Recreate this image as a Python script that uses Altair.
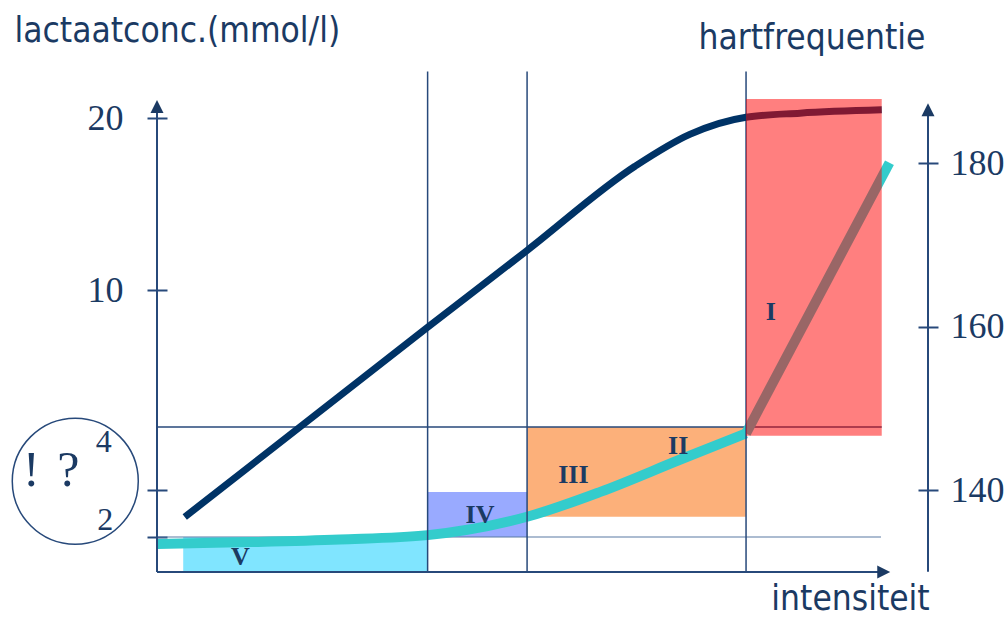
import altair as alt
import pandas as pd

# Heart-rate curve: intensity (arbitrary units) and beats per minute
HR_INTENSITY = [3.6, 35.1, 48.0, 62.0, 69.1, 76.4, 83.4, 94.0]
HR_VALUES = [136.7, 159.9, 169.3, 179.6, 183.5, 185.6, 186.1, 186.5]

# Lactate curve (mmol/l): gradual part up to the threshold, then the steep rise
LAC_INTENSITY = [0.0, 12.1, 23.7, 35.1, 48.0, 57.5, 67.8, 76.4]
LAC_VALUES = [1.6, 1.71, 1.86, 2.04, 2.43, 2.96, 3.48, 3.9]
LAC_STEEP_INTENSITY = [76.4, 95.0]
LAC_STEEP_VALUES = [3.9, 17.4]

# Training zones as boxes (intensity range x lactate range)
ZONE_NAMES = ["V", "IV", "III-II", "I"]
ZONE_X0 = [3.4, 35.1, 48.0, 76.4]
ZONE_X1 = [35.1, 48.0, 76.4, 94.0]
ZONE_LAC0 = [0.0, 2.0, 2.43, 3.86]
ZONE_LAC1 = [2.0, 2.96, 4.0, 21.1]
ZONE_COLORS = ["#80e5ff", "#99aaff", "#fcb07a", "#ff0000"]

# Zone labels
LABEL_TEXT = ["V", "IV", "III", "II", "I"]
LABEL_X = [10.8, 41.9, 54.0, 67.6, 79.6]
LABEL_LAC = [0.86, 2.47, 3.24, 3.70, 9.04]

# Threshold lines (mmol/l) and zone boundaries (intensity)
THRESHOLDS = [2, 4]
THRESHOLD_END = [93.9, 94.0]
BOUNDARIES = [35.1, 48.0, 76.4]
BOUNDARY_TOP = 22.7

# Axis extents
LAC_AXIS_TOP = 20.7
LAC_ARROW_TIP = 21.05
X_AXIS_END = 94.0
X_ARROW_TIP = 95.1
HR_AXIS_BOTTOM = 130.0
HR_AXIS_TOP = 186.9
HR_ARROW_TIP = 187.3

LAC_TICKS = [2, 3, 10, 20]
HR_TICKS = [140, 160, 180]

# The "! ?" note with the 4 and 2 mmol/l marks
NOTE_CIRCLE_X = [-10.6]
NOTE_CIRCLE_LAC = [3.14]
NOTE_BIG_TEXT = ["!", "?"]
NOTE_BIG_X = [-16.3, -11.5]
NOTE_BIG_LAC = [3.30, 3.30]
NOTE_SMALL_TEXT = ["4", "2"]
NOTE_SMALL_X = [-6.9, -6.7]
NOTE_SMALL_LAC = [3.76, 2.36]

NAVY = "#1b3a63"
LINE = "#27497a"
SANS = "DejaVu Sans Condensed, DejaVu Sans"
SERIF = "Liberation Serif"

W, H = 771, 472

X_SCALE = alt.Scale(domain=[0, 100], range=[0, W], nice=False, zero=False)
LAC_SCALE = alt.Scale(domain=[0, 2, 3, 4, 10, 20],
                      range=[472, 437, 390, 327, 190, 18], nice=False, zero=False)
HR_SCALE = alt.Scale(domain=[140, 180], range=[390, 63], nice=False, zero=False)

X_AXIS = alt.Axis(domain=False, ticks=False, labels=False, grid=False,
                  title="intensiteit", titleX=693, titleY=37, titleAlign="center",
                  titleBaseline="alphabetic", titleFont=SANS, titleFontSize=35,
                  titleFontWeight="normal", titleColor=NAVY)

LAC_AXIS = alt.Axis(orient="left", values=LAC_TICKS,
                    labelExpr="datum.value >= 10 ? datum.label : ''",
                    offset=-10, tickSize=20, tickWidth=2, tickColor=LINE,
                    domain=False, grid=False, labelFont=SERIF, labelFontSize=36,
                    labelColor=NAVY, labelPadding=24, labelFlush=False, labelOverlap=False,
                    title="lactaatconc.(mmol/l)", titleAngle=0, titleX=-153, titleY=-59,
                    titleAlign="left", titleBaseline="alphabetic", titleFont=SANS,
                    titleFontSize=35, titleFontWeight="normal", titleColor=NAVY)

HR_AXIS = alt.Axis(orient="right", values=HR_TICKS, offset=-10, tickSize=20, tickWidth=2,
                   tickColor=LINE, domain=False, grid=False, labelFont=SERIF,
                   labelFontSize=36, labelColor=NAVY, labelPadding=12, labelFlush=False,
                   labelOverlap=False, title="hartfrequentie", titleAngle=0, titleX=7,
                   titleY=-52, titleAlign="right", titleBaseline="alphabetic",
                   titleFont=SANS, titleFontSize=35, titleFontWeight="normal",
                   titleColor=NAVY)


def xq(field):
    return alt.X(field, type="quantitative", scale=X_SCALE, axis=X_AXIS)


def ylac(field, axis=True):
    return alt.Y(field, type="quantitative", scale=LAC_SCALE,
                 axis=LAC_AXIS if axis else None)


def yhr(field):
    return alt.Y(field, type="quantitative", scale=HR_SCALE, axis=HR_AXIS)


zones = pd.DataFrame({"zone": ZONE_NAMES, "x0": ZONE_X0, "x1": ZONE_X1,
                      "l0": ZONE_LAC0, "l1": ZONE_LAC1})
labels = pd.DataFrame({"t": LABEL_TEXT, "x": LABEL_X, "l": LABEL_LAC})
bounds = pd.DataFrame({"x": BOUNDARIES, "l0": [0] * len(BOUNDARIES),
                       "l1": [BOUNDARY_TOP] * len(BOUNDARIES)})
thr = pd.DataFrame({"l": THRESHOLDS, "x0": [0, 0], "x1": THRESHOLD_END})
lac = pd.DataFrame({"x": LAC_INTENSITY, "l": LAC_VALUES})
lac_steep = pd.DataFrame({"x": LAC_STEEP_INTENSITY, "l": LAC_STEEP_VALUES})
hr = pd.DataFrame({"x": HR_INTENSITY, "hr": HR_VALUES})

zone_color = alt.Color("zone:N", scale=alt.Scale(domain=ZONE_NAMES, range=ZONE_COLORS),
                       legend=None)

# ---- lactate layer under the heart-rate curve
under_boxes = alt.Chart(zones[zones.zone != "I"]).mark_rect().encode(
    x=xq("x0"), x2="x1", y=ylac("l0"), y2="l1", color=zone_color)

boundary_rules = alt.Chart(bounds).mark_rule(color=LINE, strokeWidth=1.5).encode(
    x=xq("x"), y=ylac("l0"), y2="l1")

thr4 = alt.Chart(thr[thr.l == 4]).mark_rule(color=LINE, strokeWidth=1.5).encode(
    x=xq("x0"), x2="x1", y=ylac("l"))
thr2 = alt.Chart(thr[thr.l == 2]).mark_rule(color="#5b7aa3", strokeWidth=1.2).encode(
    x=xq("x0"), x2="x1", y=ylac("l"))

lac_line = alt.Chart(lac).mark_line(color="#33cccc", strokeWidth=10,
                                    interpolate="monotone").encode(
    x=xq("x"), y=ylac("l"))
lac_steep_line = alt.Chart(lac_steep).mark_line(color="#33cccc", strokeWidth=10).encode(
    x=xq("x"), y=ylac("l"))

left_axis = alt.Chart(pd.DataFrame({"x": [0], "l0": [0], "l1": [LAC_AXIS_TOP]})).mark_rule(
    color=LINE, strokeWidth=2).encode(x=xq("x"), y=ylac("l0"), y2="l1")
left_arrow = alt.Chart(pd.DataFrame({"x": [0], "l": [LAC_ARROW_TIP]})).mark_point(
    shape="M0,0L-0.5,1L0.5,1Z", size=676, filled=True, opacity=1, color=NAVY).encode(
    x=xq("x"), y=ylac("l"))
bottom_axis = alt.Chart(pd.DataFrame({"x0": [0], "x1": [X_AXIS_END], "l": [0]})).mark_rule(
    color=LINE, strokeWidth=2).encode(x=xq("x0"), x2="x1", y=ylac("l"))
bottom_arrow = alt.Chart(pd.DataFrame({"x": [X_ARROW_TIP], "l": [0]})).mark_point(
    shape="M0,0L-1,-0.5L-1,0.5Z", size=676, filled=True, opacity=1, color=NAVY).encode(
    x=xq("x"), y=ylac("l"))

note_circle = alt.Chart(pd.DataFrame({"x": NOTE_CIRCLE_X, "l": NOTE_CIRCLE_LAC})).mark_point(
    shape="circle", size=15876, filled=False, color=LINE, strokeWidth=1.5, opacity=1).encode(
    x=xq("x"), y=ylac("l"))

lac_under = alt.layer(under_boxes, thr2, thr4, lac_line, lac_steep_line, boundary_rules,
                      left_axis, left_arrow, bottom_axis, bottom_arrow, note_circle)

# ---- heart-rate layer
hr_line = alt.Chart(hr).mark_line(color="#003366", strokeWidth=7,
                                  interpolate="monotone").encode(x=xq("x"), y=yhr("hr"))
right_axis = alt.Chart(pd.DataFrame({"x": [100], "h0": [HR_AXIS_BOTTOM],
                                     "h1": [HR_AXIS_TOP]})).mark_rule(
    color=LINE, strokeWidth=2).encode(x=xq("x"), y=yhr("h0"), y2="h1")
right_arrow = alt.Chart(pd.DataFrame({"x": [100], "hr": [HR_ARROW_TIP]})).mark_point(
    shape="M0,0L-0.5,1L0.5,1Z", size=676, filled=True, opacity=1, color=NAVY).encode(
    x=xq("x"), y=yhr("hr"))
hr_layer = alt.layer(hr_line, right_axis, right_arrow)

# ---- lactate layer on top: the translucent top zone and all labels
top_box = alt.Chart(zones[zones.zone == "I"]).mark_rect(opacity=0.5).encode(
    x=xq("x0"), x2="x1", y=ylac("l0", False), y2="l1", color=zone_color)
zone_labels = alt.Chart(labels).mark_text(font=SERIF, fontSize=26, fontWeight="bold",
                                          color=NAVY, baseline="middle").encode(
    x=xq("x"), y=ylac("l", False), text="t:N")
note_big = alt.Chart(pd.DataFrame({"t": NOTE_BIG_TEXT, "x": NOTE_BIG_X,
                                   "l": NOTE_BIG_LAC})).mark_text(
    font=SERIF, fontSize=50, color=NAVY, baseline="middle").encode(
    x=xq("x"), y=ylac("l", False), text="t:N")
note_small = alt.Chart(pd.DataFrame({"t": NOTE_SMALL_TEXT, "x": NOTE_SMALL_X,
                                     "l": NOTE_SMALL_LAC})).mark_text(
    font=SERIF, fontSize=32, color=NAVY, baseline="middle").encode(
    x=xq("x"), y=ylac("l", False), text="t:N")
lac_over = alt.layer(top_box, zone_labels, note_big, note_small)

chart = alt.layer(lac_under, hr_layer, lac_over).resolve_scale(y="independent").properties(
    width=W, height=H, autosize="none",
    padding={"left": 157, "top": 100, "right": 79, "bottom": 45},
    background="white",
).configure_view(stroke=None)

chart.save("out.html", embed_options={"renderer": "svg", "actions": False})
